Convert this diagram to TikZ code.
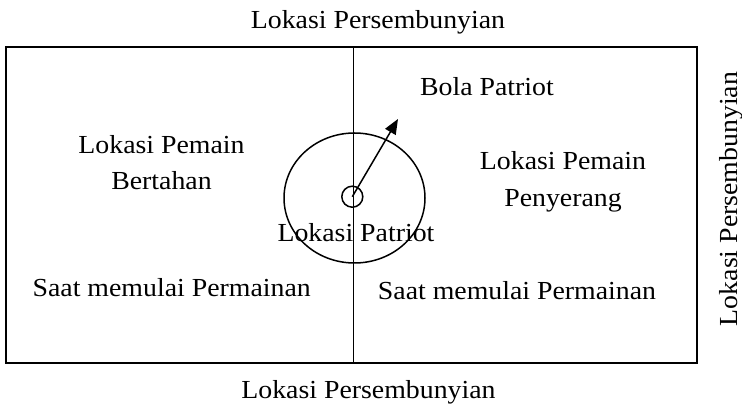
\documentclass[tikz,border=0pt]{standalone}
\usepackage{fontspec}
\setmainfont{Liberation Serif}[FakeStretch=1.07]
\usetikzlibrary{arrows.meta,shapes.geometric}

\tikzset{
  line/.style={line width=1.5pt, black},
  lbl/.style={anchor=base, inner sep=0pt, font=\fontsize{26}{31}\selectfont},
}

\begin{document}
\begin{tikzpicture}[x=1pt, y=-1pt]
  \useasboundingbox (0,0) rectangle (742,406);

  % playing field and centre line
  \coordinate (nw) at (6,47);
  \coordinate (se) at (697,363);
  \coordinate (midtop) at (353.3,47);
  \coordinate (midbot) at (353.3,363);
  \draw[line] (nw) rectangle (se);
  \draw[line] (midtop) -- (midbot);

  % centre circle, patriot spot and ball direction
  \node[line, draw, ellipse, minimum width=141pt, minimum height=130pt, inner sep=0pt] (ring) at (354.5,198) {};
  \node[line, draw, circle, minimum size=21pt, inner sep=0pt] (patriot) at (352.3,196.7) {};
  \coordinate (ball) at (398,119);
  \draw[line, -{Triangle[length=15pt, width=12pt]}] (patriot.center) -- (ball);

  % labels
  \node[lbl] (top) at (378,29) {Lokasi Persembunyian};
  \node[lbl] (bottom) at (368.5,398) {Lokasi Persembunyian};
  \node[lbl, rotate=90] (side) at (737,199) {Lokasi Persembunyian};

  \node[lbl] (def1) at (161.5,154) {Lokasi Pemain};
  \node[lbl] (def2) at (161.5,190) {Bertahan};
  \node[lbl] (defstart) at (171.7,296) {Saat memulai Permainan};

  \node[lbl] (balllbl) at (487,96) {Bola Patriot};
  \node[lbl] (att1) at (563,170) {Lokasi Pemain};
  \node[lbl] (att2) at (563,207) {Penyerang};
  \node[lbl] (attstart) at (517,299) {Saat memulai Permainan};

  \node[lbl] (patriotlbl) at (356,242) {Lokasi Patriot};
\end{tikzpicture}
\end{document}
